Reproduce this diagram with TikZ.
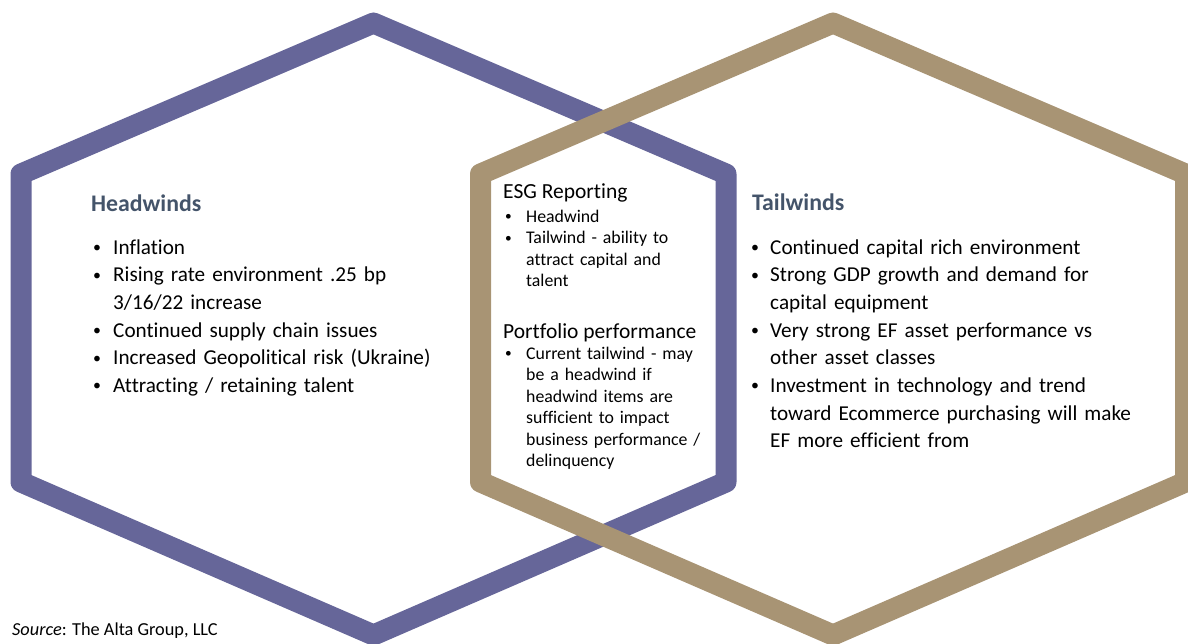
\documentclass[tikz,border=0pt]{standalone}
\usepackage{graphicx}
\usepackage{fontspec}
\setmainfont{Carlito}[Ligatures=CommonOff]
\usetikzlibrary{positioning}
\definecolor{headpurple}{HTML}{666699}
\definecolor{tailgold}{HTML}{A89474}
\definecolor{titleslate}{HTML}{44546A}

% bullet entry with hanging indent, lines broken by hand with \newline
\newcommand{\bitem}[2][22pt]{\noindent\hangindent=#1\hangafter=1%
  \makebox[#1][l]{\hspace{2pt}\raisebox{0.08em}{\scalebox{0.75}{\textbullet}}}#2\par}

\begin{document}
\begin{tikzpicture}[x=1pt, y=-1pt,
    hexline/.style={line width=21pt, line join=round},
    bigtitle/.style={anchor=base west, inner sep=0pt, text=titleslate,
      font=\fontsize{23.8}{28}\selectfont\bfseries},
    biglist/.style={anchor=base west, inner sep=0pt, text width=420pt,
      font=\fontsize{21.2}{27.7}\selectfont},
    smalltitle/.style={anchor=base west, inner sep=0pt,
      font=\fontsize{21.5}{24}\selectfont},
    smalllist/.style={anchor=base west, inner sep=0pt, text width=220pt,
      font=\fontsize{17.8}{21.5}\selectfont}]
  \useasboundingbox (0,0) rectangle (1188,643);
  \clip (0,0) rectangle (1188,643);

  % the two hexagons, gold one drawn on top
  \draw[hexline, headpurple] (373.5,23) -- (726,174) -- (726,482) -- (373.5,635)
    -- (21,482) -- (21,174) -- cycle;
  \draw[hexline, tailgold] (833,23) -- (1185.5,174) -- (1185.5,482) -- (833,635)
    -- (480.5,482) -- (480.5,174) -- cycle;

  % left side
  \node[bigtitle] (headtitle) at (91,211) {Headwinds};
  \node[biglist] (headlist) at (91,254) {%
    \bitem{Inflation}%
    \bitem{Rising rate environment .25 bp\newline 3/16/22 increase}%
    \bitem{Continued supply chain issues}%
    \bitem{Increased Geopolitical risk (Ukraine)}%
    \bitem{Attracting / retaining talent}};

  % overlap
  \node[smalltitle] (esgtitle) at (503,198) {ESG Reporting};
  \node[smalllist] (esglist) at (503,222) {%
    \bitem[23pt]{Headwind}%
    \bitem[23pt]{Tailwind - ability to\newline attract capital and\newline talent}};
  \node[smalltitle] (perftitle) at (503,338) {Portfolio performance};
  \node[smalllist] (perflist) at (503,359) {%
    \bitem[23pt]{Current tailwind - may\newline be a headwind if\newline headwind items are\newline
      sufficient to impact\newline business performance /\newline delinquency}};

  % right side
  \node[bigtitle] (tailtitle) at (752,210) {Tailwinds};
  \node[biglist] (taillist) at (749,254) {%
    \bitem[21pt]{Continued capital rich environment}%
    \bitem[21pt]{Strong GDP growth and demand for\newline capital equipment}%
    \bitem[21pt]{Very strong EF asset performance vs\newline other asset classes}%
    \bitem[21pt]{Investment in technology and trend\newline toward Ecommerce purchasing will make\newline
      EF more efficient from}};

  \node[anchor=base west, inner sep=0pt, font=\fontsize{18.3}{22}\selectfont]
    (source) at (12,635) {\textit{Source}: The Alta Group, LLC};
\end{tikzpicture}
\end{document}
